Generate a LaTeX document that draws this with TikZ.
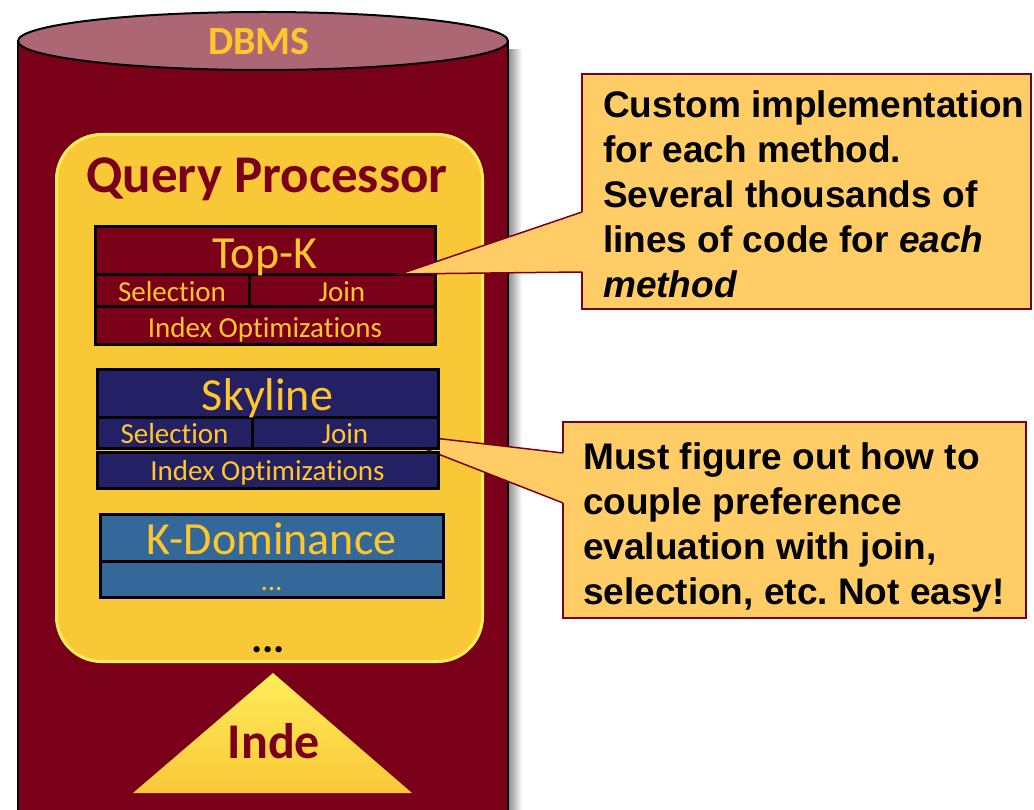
\documentclass[tikz,border=0pt]{standalone}
\usepackage{fontspec}
\setmainfont{Carlito}[Ligatures=NoCommon]
\newfontfamily\notefont{Liberation Sans}
\usetikzlibrary{positioning, calc}
\frenchspacing

\definecolor{dbred}{RGB}{122, 0, 26}
\definecolor{dbtop}{RGB}{173, 102, 115}
\definecolor{gold1}{RGB}{255, 199, 44}
\definecolor{qpyellow}{RGB}{249, 200, 55}
\definecolor{qplight}{RGB}{255, 236, 90}
\definecolor{skynavy}{RGB}{35, 32, 100}
\definecolor{kdblue}{RGB}{52, 104, 153}
\definecolor{notefill}{RGB}{255, 204, 102}

\tikzset{
  layerbox/.style={draw=black, line width=3pt, inner sep=0pt, outer sep=0pt, anchor=north west},
  biglbl/.style={anchor=base, text=gold1, inner sep=0pt, font=\fontsize{46}{46}\selectfont},
  smalllbl/.style={anchor=base, text=gold1, inner sep=0pt, font=\fontsize{29}{29}\selectfont},
  notebox/.style={draw=dbred, line width=1.5pt, fill=notefill, inner sep=0pt, outer sep=0pt, anchor=north west},
  notetext/.style={anchor=north west, inner sep=0pt, align=left, font=\notefont\bfseries\fontsize{37}{45}\selectfont},
}

\begin{document}
\begin{tikzpicture}[x=1pt, y=-1pt]
  \useasboundingbox (0,0) rectangle (1034,810);
  \clip (0,0) rectangle (1034,810);

  % DBMS cylinder
  \shade[left color=black!45, right color=white] (508,50) rectangle (522,815);
  \fill[dbred] (18,41) rectangle (508,815);
  \draw[line width=2pt] (18,815) -- (18,41) (508,41) -- (508,815);
  \filldraw[fill=dbtop, line width=2pt] (263,41) ellipse [x radius=245pt, y radius=29pt];
  \node[font=\bfseries\fontsize{40}{40}\selectfont, text=gold1] (dbms) at (259,42) {DBMS};

  % Query processor
  \node[draw=qplight, line width=3pt, fill=qpyellow, rounded corners=45pt, minimum width=426pt, minimum height=527pt, anchor=north west] (qp) at (55,133) {};
  \node[anchor=base, font=\bfseries\fontsize{53}{53}\selectfont, text=dbred] (qptitle) at (267,193) {Query Processor};
  \node[anchor=base, font=\bfseries\fontsize{42}{42}\selectfont] (qpmore) at (268,652) {...};

  % Index triangle
  \shade[top color=qplight, bottom color=qpyellow] (273,673) -- (412,793) -- (133,793) -- cycle;
  \node[anchor=base, font=\bfseries\fontsize{50}{50}\selectfont, text=dbred] (idx) at (274,758) {Inde};

  % second note, its pointer runs under the skyline block
  \node[notebox, minimum width=463pt, minimum height=196pt] (joinnote) at (563,422) {};
  \node[notetext] (jointext) at (583,442) {Must figure out how to\\couple preference\\evaluation with join,\\selection, etc. Not easy!};
  \coordinate (skytip) at (382,432);
  \fill[notefill] (skytip) -- ($(joinnote.north west)+(0,31)$) -- ($(joinnote.north west)+(3,31)$)
    -- ($(joinnote.north west)+(3,81)$) -- ($(joinnote.north west)+(0,81)$) -- cycle;
  \draw[dbred, line width=1.5pt] ($(joinnote.north west)+(0,31)$) -- (skytip) -- ($(joinnote.north west)+(0,81)$);

  % Top-K
  \node[layerbox, fill=dbred, minimum width=340pt, minimum height=48pt] (topk) at (95,227) {};
  \node[layerbox, fill=dbred, minimum width=154pt, minimum height=32pt] (tksel) at (topk.south west) {};
  \node[layerbox, fill=dbred, minimum width=186pt, minimum height=32pt] (tkjoin) at (tksel.north east) {};
  \node[layerbox, fill=dbred, minimum width=340pt, minimum height=38pt] (tkidx) at (tksel.south west) {};
  \node[biglbl] (topktxt) at ([yshift=6pt]topk.south) {Top-K};
  \node[smalllbl] (tkseltxt) at ([yshift=5pt]tksel.south) {Selection};
  \node[smalllbl] (tkjointxt) at ([yshift=5pt]tkjoin.south) {Join};
  \node[smalllbl] (tkidxtxt) at ([yshift=7pt]tkidx.south) {Index Optimizations};

  % Skyline
  \node[layerbox, fill=skynavy, minimum width=341pt, minimum height=47pt] (sky) at (97,370) {};
  \node[layerbox, fill=skynavy, minimum width=155pt, minimum height=31pt] (skysel) at (sky.south west) {};
  \node[layerbox, fill=skynavy, minimum width=186pt, minimum height=31pt] (skyjoin) at (skysel.north east) {};
  \node[layerbox, fill=skynavy, minimum width=341pt, minimum height=36pt] (skyidx) at ([yshift=-4pt]skysel.south west) {};
  \node[biglbl] (skytxt) at ([yshift=7pt]sky.south) {Skyline};
  \node[smalllbl] (skyseltxt) at ([yshift=5pt]skysel.south) {Selection};
  \node[smalllbl] (skyjointxt) at ([yshift=5pt]skyjoin.south) {Join};
  \node[smalllbl] (skyidxtxt) at ([yshift=8pt]skyidx.south) {Index Optimizations};

  % K-Dominance
  \node[layerbox, fill=kdblue, minimum width=343pt, minimum height=47pt] (kdom) at (100,514) {};
  \node[layerbox, fill=kdblue, minimum width=343pt, minimum height=36pt] (kdmore) at (kdom.south west) {};
  \node[biglbl] (kdomtxt) at ([yshift=7pt]kdom.south) {K-Dominance};
  \node[smalllbl] (kdmoretxt) at ([yshift=7pt]kdmore.south) {...};

  % first note, pointer ends on the Top-K block
  \node[notebox, minimum width=449pt, minimum height=235pt] (costnote) at (582,74) {};
  \node[notetext] (costtext) at (603,90) {Custom implementation\\for each method.\\Several thousands of\\lines of code for \textit{each}\\\textit{method}};
  \coordinate (tktip) at (400,274);
  \fill[notefill] (tktip) -- ($(costnote.north west)+(0,138)$) -- ($(costnote.north west)+(3,138)$)
    -- ($(costnote.north west)+(3,198)$) -- ($(costnote.north west)+(0,198)$) -- cycle;
  \draw[dbred, line width=1.5pt] ($(costnote.north west)+(0,138)$) -- (tktip) -- ($(costnote.north west)+(0,198)$);
\end{tikzpicture}
\end{document}
